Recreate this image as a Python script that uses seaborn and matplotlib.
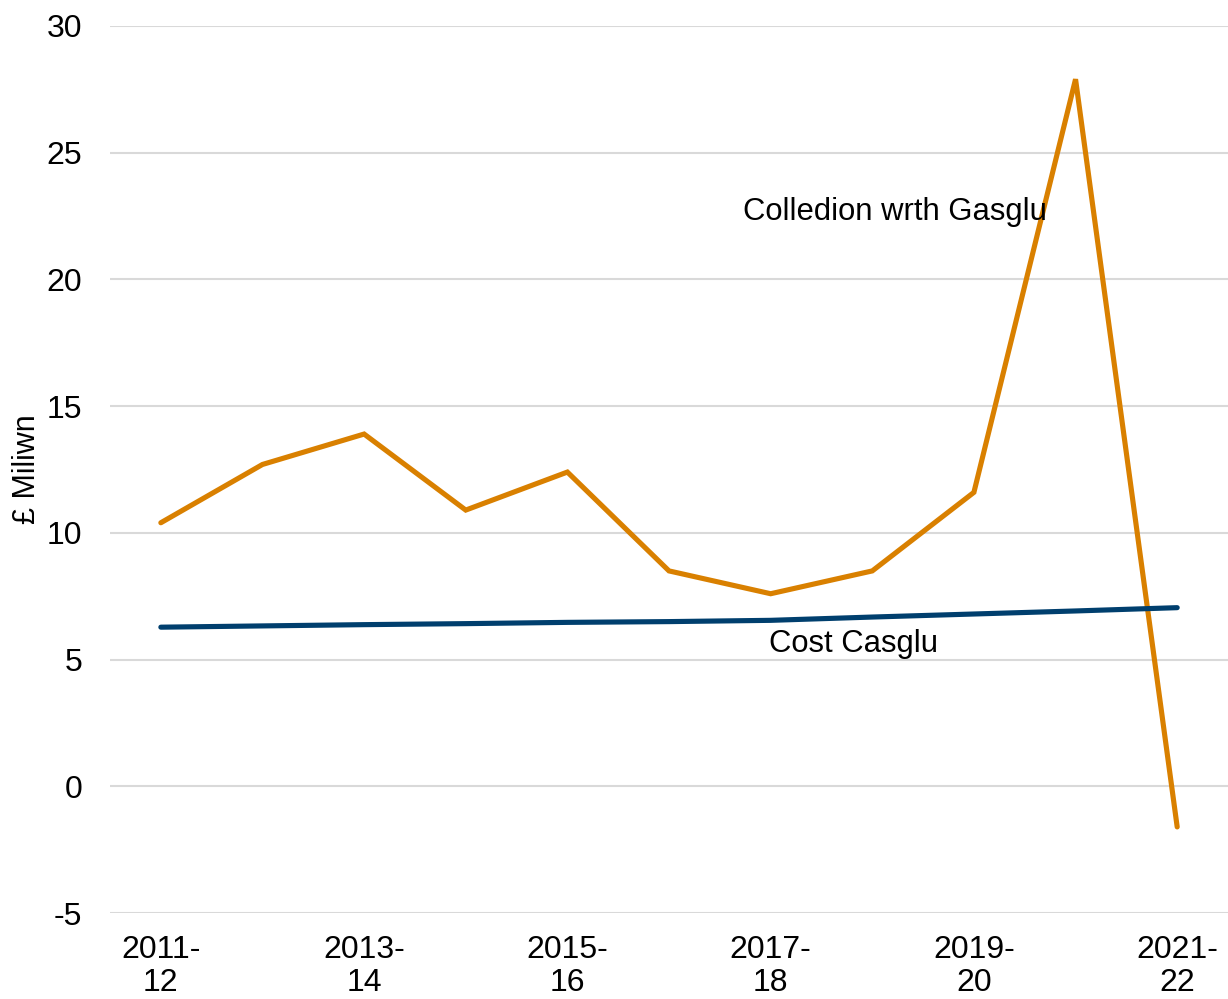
import pandas as pd
import matplotlib.pyplot as plt
import seaborn as sns

# years and values (GBP million)
years = ['2011-\n12', '2012-\n13', '2013-\n14', '2014-\n15', '2015-\n16', '2016-\n17',
         '2017-\n18', '2018-\n19', '2019-\n20', '2020-\n21', '2021-\n22']
collected = [10.4, 12.7, 13.9, 10.9, 12.4, 8.5, 7.6, 8.5, 11.6, 27.9, -1.6]
cost = [6.28, 6.33, 6.38, 6.42, 6.47, 6.5, 6.55, 6.68, 6.8, 6.92, 7.05]

df = pd.DataFrame({'idx': list(range(len(years))) * 2,
                   'value': collected + cost,
                   'series': ['Colledion wrth Gasglu'] * len(years) + ['Cost Casglu'] * len(years)})

sns.set_theme(style="white")
plt.rcParams['font.family'] = ['Liberation Sans', 'DejaVu Sans']
plt.rcParams['axes.unicode_minus'] = False
plt.rcParams['text.color'] = 'black'
plt.rcParams['axes.labelcolor'] = 'black'

fig = plt.figure(figsize=(12.28, 9.99), dpi=100)
ax = fig.add_axes([0.0896, 0.086, 0.9104, 0.888])
sns.lineplot(data=df, x='idx', y='value', hue='series',
             palette={'Colledion wrth Gasglu': '#D98000', 'Cost Casglu': '#003F6E'},
             linewidth=3.7, legend=False, ax=ax, solid_capstyle='round', solid_joinstyle='miter')

ax.set_ylim(-5, 30)
ax.set_xlim(-0.5, 10.5)
ax.set_yticks(range(-5, 31, 5))
ax.set_xticks(range(0, 11, 2))
ax.set_xticklabels(years[::2], linespacing=1.1)
ax.tick_params(axis='both', labelsize=23, colors='black', length=0)
ax.tick_params(axis='y', pad=20)
ax.tick_params(axis='x', pad=16)
ax.yaxis.grid(True, color='#D9D9D9', linewidth=1.5)
ax.set_axisbelow(True)
for s in ax.spines.values():
    s.set_visible(False)
ax.set_xlabel('')
ax.set_ylabel('£ Miliwn', fontsize=22, labelpad=3)

ax.text(5.73, 22.65, 'Colledion wrth Gasglu', fontsize=22.3, va='center', ha='left')
ax.text(5.98, 5.6, 'Cost Casglu', fontsize=22.3, va='center', ha='left')

fig.savefig('out.png', dpi=100)
plt.close()
